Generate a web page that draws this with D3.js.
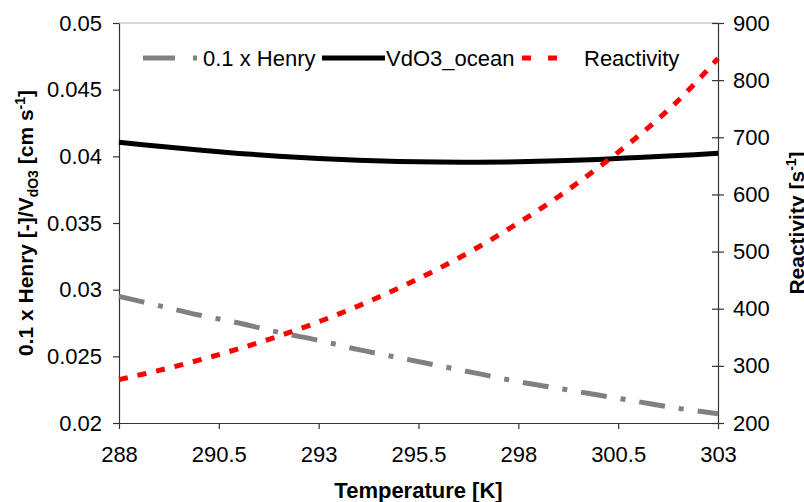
<!DOCTYPE html>
<html>
<head>
<meta charset="utf-8">
<script src="https://cdn.jsdelivr.net/npm/d3@7"></script>
<style>
  body { margin: 0; background: #fff; }
  svg { display: block; font-family: "Liberation Sans", Arial, sans-serif; }
</style>
</head>
<body>
<svg id="chart" width="804" height="502"></svg>
<script>
// temperature [K]
var temps = [288, 289, 290, 291, 292, 293, 294, 295, 296, 297, 298, 299, 300, 301, 302, 303];
// 0.1 x Henry [-] (left axis)
var henry = [0.0295, 0.0288, 0.0281, 0.0275, 0.0268, 0.0262, 0.0255, 0.0249, 0.0243, 0.0237, 0.0231, 0.0226, 0.0221, 0.0216, 0.0211, 0.0207];
// VdO3_ocean [cm s-1] (left axis)
var vdo3 = [0.04105, 0.04075, 0.04047, 0.04022, 0.04001, 0.03984, 0.03971, 0.03962, 0.03957, 0.03956, 0.03959, 0.03966, 0.03977, 0.03991, 0.04006, 0.04023];
// Reactivity [s-1] (right axis)
var reactivity = [276, 292, 310, 330, 352, 377, 405, 436, 470, 508, 550, 596, 647, 702, 764, 838];

var xTicks = [288, 290.5, 293, 295.5, 298, 300.5, 303];
var leftTicks = [0.02, 0.025, 0.03, 0.035, 0.04, 0.045, 0.05];
var rightTicks = [200, 300, 400, 500, 600, 700, 800, 900];

var svg = d3.select("#chart");
var pl = 119, pr = 718, pt = 23, pb = 423;

var x = d3.scaleLinear().domain([288, 303]).range([pl, pr]);
var yL = d3.scaleLinear().domain([0.02, 0.05]).range([pb, pt]);
var yR = d3.scaleLinear().domain([200, 900]).range([pb, pt]);

// top border of plot area
svg.append("line")
  .attr("x1", pl).attr("x2", pr)
  .attr("y1", pt).attr("y2", pt)
  .attr("stroke", "#b0b0b0").attr("stroke-width", 1);

function styleAxis(g) {
  g.selectAll("path").attr("stroke", "#333").attr("stroke-width", 1.2);
  g.selectAll("line").attr("stroke", "#333").attr("stroke-width", 1.2);
  g.selectAll("text").attr("fill", "#000").attr("font-size", 22);
}

var xAxis = svg.append("g")
  .attr("transform", "translate(0," + pb + ")")
  .call(d3.axisBottom(x).tickValues(xTicks).tickSize(6).tickSizeOuter(0).tickPadding(17)
    .tickFormat(function(d) { return String(d); }))
  .attr("font-family", null);
styleAxis(xAxis);

var yAxisL = svg.append("g")
  .attr("transform", "translate(" + pl + ",0)")
  .call(d3.axisLeft(yL).tickValues(leftTicks).tickSize(6).tickSizeOuter(0).tickPadding(11)
    .tickFormat(function(d) { return String(+d.toFixed(3)); }))
  .attr("font-family", null);
styleAxis(yAxisL);

var yAxisR = svg.append("g")
  .attr("transform", "translate(" + pr + ",0)")
  .call(d3.axisRight(yR).tickValues(rightTicks).tickSize(6).tickSizeOuter(0).tickPadding(9))
  .attr("font-family", null);
styleAxis(yAxisR);
// right ticks cross the axis
yAxisR.selectAll(".tick line").attr("x1", -6).attr("x2", 6);

// axis titles
svg.append("text")
  .attr("x", x(295.5)).attr("y", 498)
  .attr("text-anchor", "middle")
  .attr("font-size", 22).attr("font-weight", "bold")
  .text("Temperature [K]");

var lt = svg.append("text")
  .attr("transform", "translate(33," + ((pt + pb) / 2) + ") rotate(-90)")
  .attr("text-anchor", "middle")
  .attr("font-size", 21).attr("font-weight", "bold");
lt.append("tspan").text("0.1 x Henry [-]/V");
lt.append("tspan").attr("font-size", 14).attr("dy", 5).text("dO3");
lt.append("tspan").attr("dy", -5).text(" [cm s");
lt.append("tspan").attr("font-size", 14).attr("dy", -8).text("-1");
lt.append("tspan").attr("dy", 8).text("]");

var rt = svg.append("text")
  .attr("transform", "translate(804," + ((pt + pb) / 2) + ") rotate(-90)")
  .attr("text-anchor", "middle")
  .attr("font-size", 21).attr("font-weight", "bold");
rt.append("tspan").text("Reactivity [s");
rt.append("tspan").attr("font-size", 14).attr("dy", -8).text("-1");
rt.append("tspan").attr("dy", 8).text("]");

// series
var lineL = d3.line()
  .x(function(d, i) { return x(temps[i]); })
  .y(function(d) { return yL(d); })
  .curve(d3.curveCatmullRom);
var lineR = d3.line()
  .x(function(d, i) { return x(temps[i]); })
  .y(function(d) { return yR(d); })
  .curve(d3.curveCatmullRom);

svg.append("path")
  .attr("d", lineL(henry))
  .attr("fill", "none").attr("stroke", "#808080").attr("stroke-width", 5)
  .attr("stroke-dasharray", "26,14,5,14");

svg.append("path")
  .attr("d", lineL(vdo3))
  .attr("fill", "none").attr("stroke", "#000").attr("stroke-width", 5);

svg.append("path")
  .attr("d", lineR(reactivity))
  .attr("fill", "none").attr("stroke", "#ff0000").attr("stroke-width", 5)
  .attr("stroke-dasharray", "9,10");

// legend
var lg = svg.append("g").attr("font-size", 22);
var ly = 58;
lg.append("line").attr("x1", 143).attr("x2", 197).attr("y1", ly).attr("y2", ly)
  .attr("stroke", "#808080").attr("stroke-width", 5).attr("stroke-dasharray", "32,18,4,30");
lg.append("text").attr("x", 203).attr("y", ly + 8).text("0.1 x Henry");
lg.append("line").attr("x1", 322).attr("x2", 385).attr("y1", ly).attr("y2", ly)
  .attr("stroke", "#000").attr("stroke-width", 5);
lg.append("text").attr("x", 386).attr("y", ly + 8).text("VdO3_ocean");
lg.append("line").attr("x1", 522).attr("x2", 557).attr("y1", ly).attr("y2", ly)
  .attr("stroke", "#ff0000").attr("stroke-width", 5).attr("stroke-dasharray", "9,17");
lg.append("text").attr("x", 584).attr("y", ly + 8).text("Reactivity");
</script>
</body>
</html>
